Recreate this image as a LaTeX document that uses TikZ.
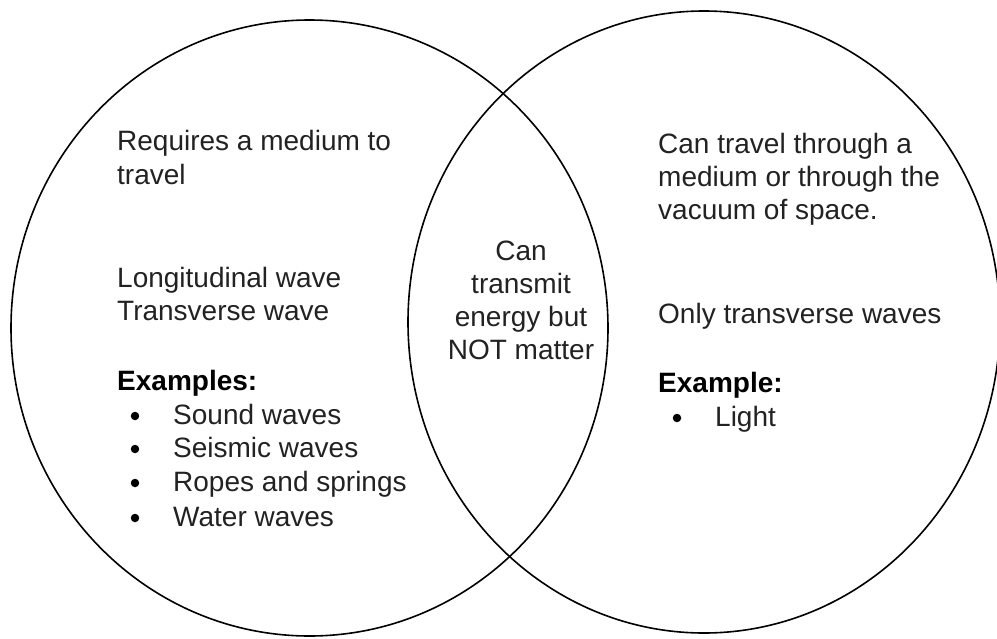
\documentclass[tikz,border=0pt]{standalone}
\usepackage{fontspec}
\setmainfont{Liberation Sans}
\definecolor{txt}{HTML}{222222}
\begin{document}
\begin{tikzpicture}[x=1pt,y=-1pt,
  ring/.style={draw=black,line width=1.6pt},
  line/.style={inner sep=0pt,anchor=base west,text=txt,font=\fontsize{28}{33}\selectfont},
  cline/.style={inner sep=0pt,anchor=base,text=txt,font=\fontsize{28}{33}\selectfont},
  head/.style={inner sep=0pt,anchor=base west,text=black,font=\fontsize{28}{33}\selectfont\bfseries},
  bul/.style={circle,fill=black,inner sep=0pt,minimum size=8.5pt}]
\useasboundingbox (0,0) rectangle (997,638);
\fill[white] (0,0) rectangle (997,638);
% circles
\draw[ring] (309.5,328) ellipse [x radius=298.5pt, y radius=308pt];
\draw[ring] (704,322) ellipse [x radius=296pt, y radius=311pt];
% left set
\node[line] (l1) at (117,150) {Requires a medium to};
\node[line] (l2) at (117,184) {travel};
\node[line] (l3) at (117,287) {Longitudinal wave};
\node[line] (l4) at (117,320) {Transverse wave};
\node[head] (lh) at (117,390) {Examples:};
\node[bul] (b1) at (135,416) {};
\node[line] (e1) at (173,424) {Sound waves};
\node[bul] (b2) at (135,449) {};
\node[line] (e2) at (173,457) {Seismic waves};
\node[bul] (b3) at (135,483) {};
\node[line] (e3) at (173,491) {Ropes and springs};
\node[bul] (b4) at (135,518) {};
\node[line] (e4) at (173,526) {Water waves};
% middle
\node[cline] (m1) at (521,260) {Can};
\node[cline] (m2) at (521,293) {transmit};
\node[cline] (m3) at (521,326) {energy but};
\node[cline] (m4) at (521,359) {NOT matter};
% right set
\node[line] (r1) at (658,153) {Can travel through a};
\node[line] (r2) at (658,186) {medium or through the};
\node[line] (r3) at (658,219) {vacuum of space.};
\node[line] (r4) at (658,323) {Only transverse waves};
\node[head] (rh) at (658,392) {Example:};
\node[bul] (rb1) at (677,418) {};
\node[line] (re1) at (715,426) {Light};
\end{tikzpicture}
\end{document}
